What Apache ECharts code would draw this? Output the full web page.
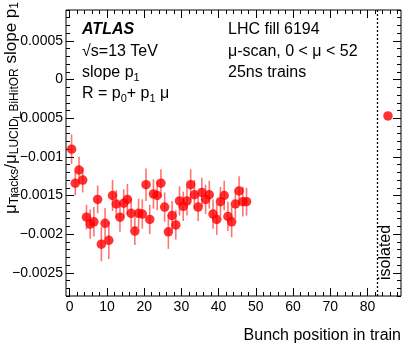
<!DOCTYPE html>
<html>
<head>
<meta charset="utf-8">
<script src="https://cdn.jsdelivr.net/npm/echarts@6/dist/echarts.min.js"></script>
<style>
  html, body { margin: 0; padding: 0; background: #fff; }
  #chart { width: 414px; height: 353px; }
</style>
</head>
<body>
<div id="chart"></div>
<script>
// bunch positions in the 25ns train
var bunch = [0, 1, 2, 3, 4, 5, 6, 7, 8, 9, 10, 11, 12, 13, 14, 15, 16, 17, 18, 19,
  20, 21, 22, 23, 24, 25, 26, 27, 28, 29, 30, 31, 32, 33, 34, 35, 36, 37, 38, 39,
  40, 41, 42, 43, 44, 45, 46, 47];
// slope p1 per bunch
var slope = [-0.00090, -0.00134, -0.00117, -0.00130, -0.00178, -0.00187, -0.00184, -0.00155,
  -0.00213, -0.00186, -0.00208, -0.00150, -0.00161, -0.00178, -0.00160, -0.00155,
  -0.00173, -0.00196, -0.00173, -0.00174, -0.00136, -0.00181, -0.00148, -0.00150,
  -0.00134, -0.00165, -0.00197, -0.00176, -0.00188, -0.00157, -0.00164, -0.00157,
  -0.00136, -0.00149, -0.00165, -0.00146, -0.00155, -0.00149, -0.00174, -0.00181,
  -0.00158, -0.00150, -0.00177, -0.00184, -0.00161, -0.00144, -0.00158, -0.00158];
// uncertainties
var slopeErr = [0.00019, 0.00016, 0.00017, 0.00016, 0.00016, 0.00019, 0.00019, 0.00018,
  0.00022, 0.00020, 0.00024, 0.00020, 0.00018, 0.00019, 0.00018, 0.00020,
  0.00019, 0.00018, 0.00019, 0.00019, 0.00021, 0.00019, 0.00019, 0.00019,
  0.00018, 0.00019, 0.00022, 0.00019, 0.00019, 0.00019, 0.00019, 0.00019,
  0.00020, 0.00019, 0.00018, 0.00019, 0.00019, 0.00018, 0.00019, 0.00020,
  0.00019, 0.00019, 0.00019, 0.00020, 0.00019, 0.00019, 0.00019, 0.00018];
// isolated bunch
var isoBunch = [85];
var isoSlope = [-0.00047];

var xLabels = [0, 10, 20, 30, 40, 50, 60, 70, 80];
var yLabels = [-0.0025, -0.002, -0.0015, -0.001, -0.0005, 0, 0.0005];
var separator = 82.5;

var X_MIN = -1, X_MAX = 89, Y_MIN = -0.0028, Y_MAX = 0.0009;

// minor ticks
var xMinor = [];
for (var i = 0; i <= 88; i += 2) xMinor.push(i);
var yMinor = [];
for (var k = -28; k <= 9; k++) yMinor.push(k / 10000);

var FONT = 'Liberation Sans, Arial, sans-serif';

var points = bunch.map(function (b, i) { return [b + 0.5, slope[i]]; }); // bin centre
var bars = bunch.map(function (b, i) { return [b + 0.5, slope[i] - slopeErr[i], slope[i] + slopeErr[i]]; });
var isoPoints = isoBunch.map(function (b, i) { return [b + 0.5, isoSlope[i]]; });

function xAx(pos, ticks, len, labels) {
    return {
        type: 'value', min: X_MIN, max: X_MAX, position: pos,
        axisLine: { show: false, onZero: false },
        splitLine: { show: false },
        axisTick: { show: true, inside: true, length: len, customValues: ticks,
            lineStyle: { color: '#000', width: 1 } },
        axisLabel: labels ? {
            show: true, customValues: xLabels, margin: 4,
            fontFamily: FONT, fontSize: 14, color: '#000'
        } : { show: false }
    };
}
function yAx(pos, ticks, len, labels) {
    return {
        type: 'value', min: Y_MIN, max: Y_MAX, position: pos,
        axisLine: { show: false, onZero: false },
        splitLine: { show: false },
        axisTick: { show: true, inside: true, length: len, customValues: ticks,
            lineStyle: { color: '#000', width: 1 } },
        axisLabel: labels ? {
            show: true, customValues: yLabels, margin: 3,
            fontFamily: FONT, fontSize: 14, color: '#000',
            formatter: function (v) { return v === 0 ? '0' : String(v).replace('-', '\u2212'); }
        } : { show: false }
    };
}

var chart = echarts.init(document.getElementById('chart'), null, { renderer: 'canvas' });

var mainRich = {
    n: { fontFamily: FONT, fontSize: 16, lineHeight: 20, verticalAlign: 'middle', color: '#000' },
    t: { fontFamily: FONT, fontSize: 17, lineHeight: 20, verticalAlign: 'middle', color: '#000' },
    b: { fontFamily: FONT, fontSize: 16, lineHeight: 20, verticalAlign: 'middle', color: '#000', fontWeight: 'bold', fontStyle: 'italic' },
    s: { fontFamily: FONT, fontSize: 11, lineHeight: 8, verticalAlign: 'bottom', color: '#000' },
    ts: { fontFamily: FONT, fontSize: 12, lineHeight: 8, verticalAlign: 'bottom', color: '#000' }
};

function txt(x, y, text, rot, align) {
    return {
        type: 'text', x: x, y: y, rotation: rot || 0, z: 100,
        style: {
            text: text, rich: mainRich, fill: '#000',
            font: '16px ' + FONT,
            align: align || 'left', verticalAlign: 'middle',
            textAlign: align || 'left', textVerticalAlign: 'middle'
        }
    };
}

chart.setOption({
    animation: false,
    backgroundColor: '#fff',
    grid: { left: 66, right: 13, top: 10, bottom: 57, show: true,
        borderColor: '#000', borderWidth: 1, backgroundColor: 'transparent' },
    xAxis: [
        xAx('bottom', xLabels, 8, true),
        xAx('bottom', xMinor, 4, false),
        xAx('top', xLabels, 8, false),
        xAx('top', xMinor, 4, false)
    ],
    yAxis: [
        yAx('left', yLabels, 8, true),
        yAx('left', yMinor, 4, false),
        yAx('right', yLabels, 8, false),
        yAx('right', yMinor, 4, false)
    ],
    graphic: [
        txt(82, 30, '{b|ATLAS}'),
        txt(82, 52, '{n|\u221As=13 TeV}'),
        txt(82, 73, '{n|slope p}{s|1}'),
        txt(82, 94, '{n|R = p}{s|0}{n|+ p}{s|1}{n| \u03BC}'),
        txt(228, 30, '{n|LHC fill 6194}'),
        txt(228, 52, '{n|\u03BC-scan, 0 < \u03BC < 52}'),
        txt(228, 73, '{n|25ns trains}'),
        txt(386, 280, '{n|isolated}', Math.PI / 2, 'left'),
        txt(401, 336, '{n|Bunch position in train}', 0, 'right'),
        txt(11, 2, '{t|\u03BC}{ts|Tracks}{t|/\u03BC}{ts|LUCID_BiHitOR}{t| slope p}{ts|1}', Math.PI / 2, 'right')
    ],
    series: [
        {
            type: 'custom',
            xAxisIndex: 0, yAxisIndex: 0,
            data: bars,
            clip: true,
            z: 2,
            renderItem: function (params, api) {
                var lo = api.coord([api.value(0), api.value(1)]);
                var hi = api.coord([api.value(0), api.value(2)]);
                return {
                    type: 'line',
                    shape: { x1: lo[0], y1: lo[1], x2: hi[0], y2: hi[1] },
                    style: { stroke: 'rgba(255,0,0,0.55)', lineWidth: 1.6 }
                };
            }
        },
        {
            type: 'scatter',
            xAxisIndex: 0, yAxisIndex: 0,
            data: points,
            symbol: 'circle', symbolSize: 9.5,
            itemStyle: { color: '#ff0000' },
            z: 3,
            markLine: {
                silent: true, symbol: 'none', label: { show: false },
                lineStyle: { color: '#000', type: [2, 2], width: 1.3 },
                data: [{ xAxis: separator }]
            }
        },
        {
            type: 'scatter',
            xAxisIndex: 0, yAxisIndex: 0,
            data: isoPoints,
            symbol: 'circle', symbolSize: 9.5,
            itemStyle: { color: '#ff0000' },
            z: 3
        }
    ]
});
</script>
</body>
</html>
